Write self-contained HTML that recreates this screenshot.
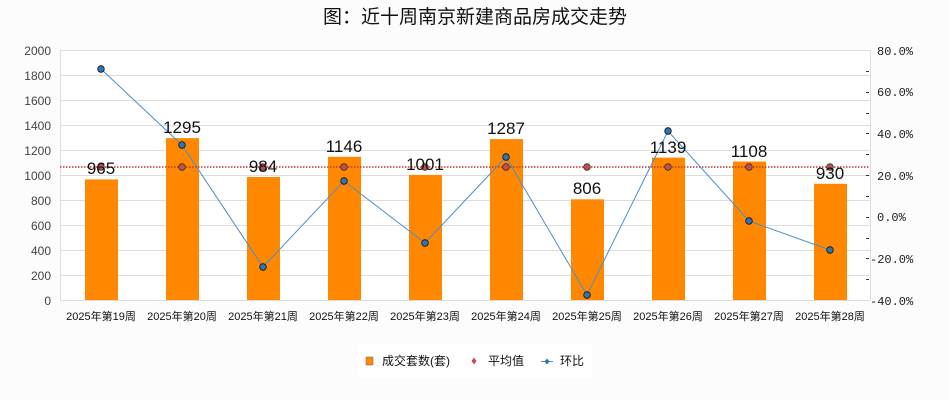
<!DOCTYPE html>
<html><head><meta charset="utf-8"><style>
html,body{margin:0;padding:0;background:#fcfcfc;}
svg{display:block;font-family:"Liberation Sans","Noto Sans CJK SC",sans-serif;}
</style></head><body>
<svg width="950" height="400" viewBox="0 0 950 400" xmlns="http://www.w3.org/2000/svg">
<rect width="950" height="400" fill="#fcfcfc"/>
<text x="475" y="23" text-anchor="middle" font-size="19" fill="#111">图：近十周南京新建商品房成交走势</text>
<rect x="60" y="50" width="810" height="250" fill="#fff"/>
<g stroke="#dddddd" stroke-width="1">
<line x1="60" y1="50.5" x2="870" y2="50.5"/><line x1="60" y1="75.5" x2="870" y2="75.5"/>
<line x1="60" y1="100.5" x2="870" y2="100.5"/><line x1="60" y1="125.5" x2="870" y2="125.5"/>
<line x1="60" y1="150.5" x2="870" y2="150.5"/><line x1="60" y1="175.5" x2="870" y2="175.5"/>
<line x1="60" y1="200.5" x2="870" y2="200.5"/><line x1="60" y1="225.5" x2="870" y2="225.5"/>
<line x1="60" y1="250.5" x2="870" y2="250.5"/><line x1="60" y1="275.5" x2="870" y2="275.5"/>
<line x1="60" y1="300.5" x2="870" y2="300.5"/>
<line x1="60.5" y1="50" x2="60.5" y2="300"/><line x1="870.5" y1="50" x2="870.5" y2="300"/>
</g>
<g stroke="#333" stroke-width="1">
<line x1="866" y1="71.5" x2="869" y2="71.5"/><line x1="866" y1="92.5" x2="869" y2="92.5"/>
<line x1="866" y1="113.5" x2="869" y2="113.5"/><line x1="866" y1="133.5" x2="869" y2="133.5"/>
<line x1="866" y1="154.5" x2="869" y2="154.5"/><line x1="866" y1="175.5" x2="869" y2="175.5"/>
<line x1="866" y1="196.5" x2="869" y2="196.5"/><line x1="866" y1="217.5" x2="869" y2="217.5"/>
<line x1="866" y1="238.5" x2="869" y2="238.5"/><line x1="866" y1="258.5" x2="869" y2="258.5"/>
<line x1="866" y1="279.5" x2="869" y2="279.5"/>
</g>
<g font-size="12" fill="#444" text-anchor="end">
<text x="51" y="55">2000</text><text x="51" y="80">1800</text><text x="51" y="105">1600</text>
<text x="51" y="130">1400</text><text x="51" y="155">1200</text><text x="51" y="180">1000</text>
<text x="51" y="205">800</text><text x="51" y="230">600</text><text x="51" y="255">400</text>
<text x="51" y="280">200</text><text x="51" y="305">0</text>
</g>
<g font-size="12" fill="#222" font-family="Liberation Mono,monospace">
<text x="877" y="55">80.0%</text><text x="877" y="96">60.0%</text><text x="877" y="138">40.0%</text>
<text x="877" y="180">20.0%</text><text x="877" y="221">0.0%</text><text x="870" y="263">-20.0%</text>
<text x="870" y="305">-40.0%</text>
</g>
<g fill="#ff8800">
<rect x="85" y="179.4" width="33" height="120.6"/><rect x="166" y="138.1" width="33" height="161.9"/>
<rect x="247" y="177" width="33" height="123"/><rect x="328" y="156.8" width="33" height="143.2"/>
<rect x="409" y="174.9" width="33" height="125.1"/><rect x="490" y="139.1" width="33" height="160.9"/>
<rect x="571" y="199.3" width="33" height="100.7"/><rect x="652" y="157.6" width="33" height="142.4"/>
<rect x="733" y="161.5" width="33" height="138.5"/><rect x="814" y="183.8" width="33" height="116.2"/>
</g>
<line x1="60" y1="167" x2="870" y2="167" stroke="#c0392b" stroke-width="1.5" stroke-dasharray="1.5,1.5"/>
<g fill="#c0504d" stroke="#333" stroke-width="0.8">
<circle cx="101" cy="167" r="3.3"/><circle cx="182" cy="167" r="3.3"/><circle cx="263" cy="167" r="3.3"/>
<circle cx="344" cy="167" r="3.3"/><circle cx="425" cy="167" r="3.3"/><circle cx="506" cy="167" r="3.3"/>
<circle cx="587" cy="167" r="3.3"/><circle cx="668" cy="167" r="3.3"/><circle cx="749" cy="167" r="3.3"/>
<circle cx="830" cy="167" r="3.3"/>
</g>
<polyline points="101,69 182,145 263,267 344,181 425,243 506,157 587,295 668,131 749,221 830,250" fill="none" stroke="#4a8ed0" stroke-width="1"/>
<g fill="#2e75b6" stroke="#111" stroke-width="0.8">
<circle cx="101" cy="69" r="3.3"/><circle cx="182" cy="145" r="3.3"/><circle cx="263" cy="267" r="3.3"/>
<circle cx="344" cy="181" r="3.3"/><circle cx="425" cy="243" r="3.3"/><circle cx="506" cy="157" r="3.3"/>
<circle cx="587" cy="295" r="3.3"/><circle cx="668" cy="131" r="3.3"/><circle cx="749" cy="221" r="3.3"/>
<circle cx="830" cy="250" r="3.3"/>
</g>
<g font-size="17" fill="#111" text-anchor="middle">
<text x="101" y="174">965</text><text x="182" y="133">1295</text><text x="263" y="172">984</text>
<text x="344" y="152">1146</text><text x="425" y="170">1001</text><text x="506" y="134">1287</text>
<text x="587" y="194">806</text><text x="668" y="153">1139</text><text x="749" y="157">1108</text>
<text x="830" y="179">930</text>
</g>
<g font-size="11" fill="#111" text-anchor="middle">
<text x="101" y="320">2025年第19周</text><text x="182" y="320">2025年第20周</text><text x="263" y="320">2025年第21周</text>
<text x="344" y="320">2025年第22周</text><text x="425" y="320">2025年第23周</text><text x="506" y="320">2025年第24周</text>
<text x="587" y="320">2025年第25周</text><text x="668" y="320">2025年第26周</text><text x="749" y="320">2025年第27周</text>
<text x="830" y="320">2025年第28周</text>
</g>
<rect x="358" y="344" width="234" height="34" fill="#fff"/>
<rect x="366" y="357" width="7" height="8" fill="#ff8800" stroke="#666" stroke-width="0.5"/>
<text x="382" y="365" font-size="12" fill="#111">成交套数(套)</text>
<path d="M474 357.5 L476.5 361 L474 364.5 L471.5 361Z" fill="#c0504d"/>
<text x="488" y="365" font-size="12" fill="#111">平均值</text>
<line x1="541" y1="361.5" x2="553" y2="361.5" stroke="#4a8ed0"/>
<path d="M547 358.5 L549.5 361.5 L547 364.5 L544.5 361.5Z" fill="#2e75b6"/>
<text x="560" y="365" font-size="12" fill="#111">环比</text>
</svg>
</body></html>
